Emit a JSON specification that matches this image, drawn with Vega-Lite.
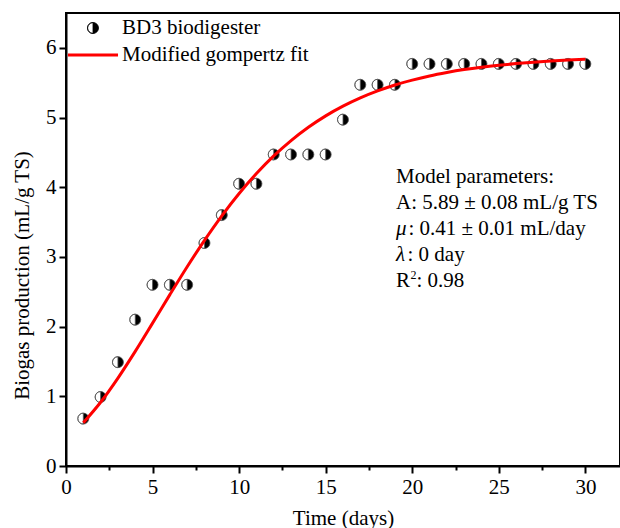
{
  "$schema": "https://vega.github.io/schema/vega-lite/v6.json",
  "width": 554,
  "height": 453,
  "autosize": {"type": "none"},
  "padding": {"left": 66, "top": 13, "right": 0, "bottom": 62},
  "background": "white",
  "config": {
    "view": {"stroke": "black", "strokeWidth": 2},
    "font": "Liberation Serif",
    "axis": {
      "domainColor": "black", "domainWidth": 2,
      "tickColor": "black", "tickWidth": 2,
      "labelFont": "Liberation Serif", "labelFontSize": 21, "labelColor": "black",
      "titleFont": "Liberation Serif", "titleFontSize": 21, "titleFontWeight": "normal", "titleColor": "black",
      "grid": false, "labelOverlap": false, "labelFlush": false
    },
    "text": {"font": "Liberation Serif", "fontSize": 21, "color": "black"}
  },
  "datasets": {
    "obs": [
      {"t": 1, "v": 0.68}, {"t": 2, "v": 0.99}, {"t": 3, "v": 1.49}, {"t": 4, "v": 2.1},
      {"t": 5, "v": 2.6}, {"t": 6, "v": 2.6}, {"t": 7, "v": 2.6}, {"t": 8, "v": 3.2},
      {"t": 9, "v": 3.6}, {"t": 10, "v": 4.05}, {"t": 11, "v": 4.05}, {"t": 12, "v": 4.47},
      {"t": 13, "v": 4.47}, {"t": 14, "v": 4.47}, {"t": 15, "v": 4.47}, {"t": 16, "v": 4.97},
      {"t": 17, "v": 5.47}, {"t": 18, "v": 5.47}, {"t": 19, "v": 5.47}, {"t": 20, "v": 5.77},
      {"t": 21, "v": 5.77}, {"t": 22, "v": 5.77}, {"t": 23, "v": 5.77}, {"t": 24, "v": 5.77},
      {"t": 25, "v": 5.77}, {"t": 26, "v": 5.77}, {"t": 27, "v": 5.77}, {"t": 28, "v": 5.77},
      {"t": 29, "v": 5.77}, {"t": 30, "v": 5.77}
    ],
    "fit": [
      {"t": 1, "v": 0.621}, {"t": 2, "v": 0.915}, {"t": 3, "v": 1.262}, {"t": 4, "v": 1.645},
      {"t": 5, "v": 2.05}, {"t": 6, "v": 2.459}, {"t": 7, "v": 2.859}, {"t": 8, "v": 3.238},
      {"t": 9, "v": 3.59}, {"t": 10, "v": 3.91}, {"t": 11, "v": 4.196}, {"t": 12, "v": 4.449},
      {"t": 13, "v": 4.669}, {"t": 14, "v": 4.86}, {"t": 15, "v": 5.024}, {"t": 16, "v": 5.163},
      {"t": 17, "v": 5.282}, {"t": 18, "v": 5.382}, {"t": 19, "v": 5.467}, {"t": 20, "v": 5.537},
      {"t": 21, "v": 5.597}, {"t": 22, "v": 5.646}, {"t": 23, "v": 5.688}, {"t": 24, "v": 5.722},
      {"t": 25, "v": 5.75}, {"t": 26, "v": 5.774}, {"t": 27, "v": 5.794}, {"t": 28, "v": 5.81},
      {"t": 29, "v": 5.824}, {"t": 30, "v": 5.835}
    ]
  },
  "layer": [
    {
      "data": {"name": "obs"},
      "mark": {
        "type": "point",
        "shape": "M0,-1A1,1,0,0,1,0,1A1,1,0,0,1,0,-1ZM0,-1A1,1,0,0,0,0,1Z",
        "filled": true,
        "size": 121,
        "stroke": "#555555",
        "strokeWidth": 0.8,
        "opacity": 1
      },
      "encoding": {
        "x": {
          "field": "t", "type": "quantitative",
          "scale": {"domain": [0, 32], "nice": false},
          "axis": {
            "values": [0, 2.5, 5, 7.5, 10, 12.5, 15, 17.5, 20, 22.5, 25, 27.5, 30],
            "labelExpr": "datum.value % 5 === 0 ? format(datum.value, 'd') : ''",
            "tickSize": {"condition": {"test": "datum.value % 5 === 0", "value": 7}, "value": 4},
            "labelPadding": 3,
            "title": "Time (days)",
            "titleBaseline": "alphabetic",
            "titleY": 58
          }
        },
        "y": {
          "field": "v", "type": "quantitative",
          "scale": {"domain": [0, 6.5], "nice": false},
          "axis": {
            "values": [0, 0.5, 1, 1.5, 2, 2.5, 3, 3.5, 4, 4.5, 5, 5.5, 6, 6.5],
            "labelExpr": "datum.value % 1 === 0 ? format(datum.value, 'd') : ''",
            "tickSize": {"condition": {"test": "datum.value % 1 === 0", "value": 7}, "value": 4},
            "labelPadding": 3,
            "title": "Biogas production (mL/g TS)",
            "titleAngle": 270,
            "titleAlign": "center",
            "titleBaseline": "alphabetic",
            "titleX": -38,
            "titleY": 262
          }
        },
        "color": {
          "datum": "BD3 biodigester",
          "type": "nominal",
          "scale": {"domain": ["BD3 biodigester", "Modified gompertz fit"], "range": ["black", "#ff0000"]},
          "legend": {
            "orient": "none",
            "direction": "vertical",
            "legendX": 16.5,
            "legendY": 4.5,
            "title": null,
            "padding": 0,
            "labelFont": "Liberation Serif",
            "labelFontSize": 21,
            "labelColor": "black",
            "labelLimit": 400,
            "labelOffset": 18.5,
            "symbolOffset": 0,
            "rowPadding": 5,
            "symbolSize": 121,
            "encoding": {
              "symbols": {
                "shape": {"value": {"expr": "datum.value === 'BD3 biodigester' ? 'M0,-1A1,1,0,0,1,0,1A1,1,0,0,1,0,-1ZM0,-1A1,1,0,0,0,0,1Z' : 'M-4.55,0L4.55,0'"}},
                "fill": {"value": {"expr": "datum.value === 'BD3 biodigester' ? 'black' : 'transparent'"}},
                "stroke": {"value": {"expr": "datum.value === 'BD3 biodigester' ? '#555555' : '#ff0000'"}},
                "strokeWidth": {"value": {"expr": "datum.value === 'BD3 biodigester' ? 0.8 : 3"}},
                "size": {"value": 121},
                "opacity": {"value": 1}
              }
            }
          }
        }
      }
    },
    {
      "data": {"name": "fit"},
      "mark": {"type": "line", "strokeWidth": 3, "interpolate": "monotone"},
      "encoding": {
        "x": {"field": "t", "type": "quantitative"},
        "y": {"field": "v", "type": "quantitative"},
        "color": {"datum": "Modified gompertz fit", "type": "nominal"}
      }
    },
    {
      "data": {"values": [{}]},
      "mark": {"type": "text", "text": "Model parameters:", "align": "left", "baseline": "alphabetic"},
      "encoding": {"x": {"datum": 19.06, "type": "quantitative"}, "y": {"datum": 4.061, "type": "quantitative"}}
    },
    {
      "data": {"values": [{}]},
      "mark": {"type": "text", "text": "A: 5.89 ± 0.08 mL/g TS", "align": "left", "baseline": "alphabetic"},
      "encoding": {"x": {"datum": 19.06, "type": "quantitative"}, "y": {"datum": 3.688, "type": "quantitative"}}
    },
    {
      "data": {"values": [{}]},
      "mark": {"type": "text", "text": "μ", "fontStyle": "italic", "align": "left", "baseline": "alphabetic"},
      "encoding": {"x": {"datum": 19.06, "type": "quantitative"}, "y": {"datum": 3.315, "type": "quantitative"}}
    },
    {
      "data": {"values": [{}]},
      "mark": {"type": "text", "text": ": 0.41 ± 0.01 mL/day", "dx": 12.5, "align": "left", "baseline": "alphabetic"},
      "encoding": {"x": {"datum": 19.06, "type": "quantitative"}, "y": {"datum": 3.315, "type": "quantitative"}}
    },
    {
      "data": {"values": [{}]},
      "mark": {"type": "text", "text": "λ", "fontStyle": "italic", "align": "left", "baseline": "alphabetic"},
      "encoding": {"x": {"datum": 19.06, "type": "quantitative"}, "y": {"datum": 2.942, "type": "quantitative"}}
    },
    {
      "data": {"values": [{}]},
      "mark": {"type": "text", "text": ": 0 day", "dx": 11.5, "align": "left", "baseline": "alphabetic"},
      "encoding": {"x": {"datum": 19.06, "type": "quantitative"}, "y": {"datum": 2.942, "type": "quantitative"}}
    },
    {
      "data": {"values": [{}]},
      "mark": {"type": "text", "text": "R", "align": "left", "baseline": "alphabetic"},
      "encoding": {"x": {"datum": 19.06, "type": "quantitative"}, "y": {"datum": 2.569, "type": "quantitative"}}
    },
    {
      "data": {"values": [{}]},
      "mark": {"type": "text", "text": "2", "fontSize": 12, "dx": 14.5, "dy": -8, "align": "left", "baseline": "alphabetic"},
      "encoding": {"x": {"datum": 19.06, "type": "quantitative"}, "y": {"datum": 2.569, "type": "quantitative"}}
    },
    {
      "data": {"values": [{}]},
      "mark": {"type": "text", "text": ": 0.98", "dx": 20.5, "align": "left", "baseline": "alphabetic"},
      "encoding": {"x": {"datum": 19.06, "type": "quantitative"}, "y": {"datum": 2.569, "type": "quantitative"}}
    }
  ]
}
